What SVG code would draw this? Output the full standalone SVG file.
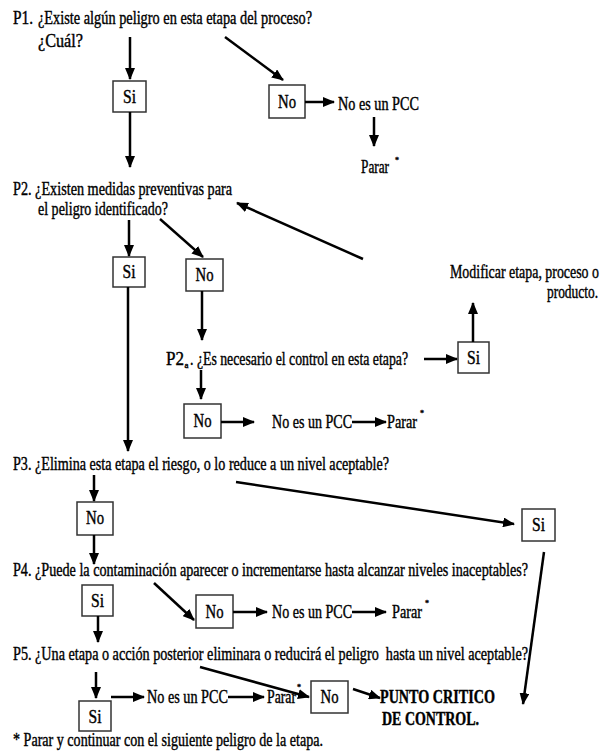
<svg xmlns="http://www.w3.org/2000/svg" width="601" height="751" viewBox="0 0 601 751">
<defs>
<marker id="ah" markerUnits="userSpaceOnUse" markerWidth="12" markerHeight="10" viewBox="0 0 12 10" refX="11" refY="5" orient="auto">
<path d="M0,0 L12,5 L0,10 z" fill="#000"/>
</marker>
<style>
.box{fill:#fff;stroke:#333;stroke-width:1.5}
.c line{stroke:#000;stroke-width:2.5;marker-end:url(#ah)}
.t text{fill:#000;stroke:#000;stroke-width:0.4}
</style>
</defs>
<rect width="601" height="751" fill="#fff"/>

<g class="t" font-family="Liberation Serif" font-size="18">
<g id="p1">
<text x="13" y="24" textLength="20" lengthAdjust="spacingAndGlyphs">P1.</text>
<text x="38" y="24" textLength="274" lengthAdjust="spacingAndGlyphs">¿Existe algún peligro en esta etapa del proceso?</text>
<text x="38" y="47" textLength="45" lengthAdjust="spacingAndGlyphs">¿Cuál?</text>
</g>
<g id="p1-si"><rect class="box" x="113" y="81" width="33" height="31"/><text x="129.5" y="103" text-anchor="middle" textLength="13" lengthAdjust="spacingAndGlyphs">Si</text></g>
<g id="p1-no"><rect class="box" x="269" y="85" width="36" height="33"/><text x="287" y="108" text-anchor="middle" textLength="18" lengthAdjust="spacingAndGlyphs">No</text></g>
<g id="p1-nopcc"><text x="338" y="110" textLength="81" lengthAdjust="spacingAndGlyphs">No es un PCC</text></g>
<g id="p1-parar"><text x="361" y="173" textLength="28" lengthAdjust="spacingAndGlyphs">Parar</text><text font-size="8" x="395" y="163">*</text></g>

<g id="p2">
<text x="13" y="195" textLength="219" lengthAdjust="spacingAndGlyphs">P2. ¿Existen medidas preventivas para</text>
<text x="38" y="215" textLength="130" lengthAdjust="spacingAndGlyphs">el peligro identificado?</text>
</g>
<g id="p2-si"><rect class="box" x="113" y="257" width="32" height="30"/><text x="129" y="278" text-anchor="middle" textLength="13" lengthAdjust="spacingAndGlyphs">Si</text></g>
<g id="p2-no"><rect class="box" x="186" y="259" width="37" height="32"/><text x="204.5" y="281" text-anchor="middle" textLength="18" lengthAdjust="spacingAndGlyphs">No</text></g>
<g id="modificar">
<text x="450" y="278" textLength="149" lengthAdjust="spacingAndGlyphs">Modificar etapa, proceso o</text>
<text x="547" y="298" textLength="51" lengthAdjust="spacingAndGlyphs">producto.</text>
</g>
<g id="p2a">
<text x="166" y="365" textLength="18" lengthAdjust="spacingAndGlyphs">P2</text>
<text font-size="9" x="184.5" y="368">a</text>
<text x="190" y="365" textLength="218" lengthAdjust="spacingAndGlyphs">. ¿Es necesario el control en esta etapa?</text>
</g>
<g id="p2a-si"><rect class="box" x="458" y="342" width="31" height="31"/><text x="473.5" y="364" text-anchor="middle" textLength="13" lengthAdjust="spacingAndGlyphs">Si</text></g>
<g id="p2a-no"><rect class="box" x="184" y="404" width="37" height="34"/><text x="202.5" y="427" text-anchor="middle" textLength="18" lengthAdjust="spacingAndGlyphs">No</text></g>
<g id="p2a-nopcc"><text x="272" y="428" textLength="80" lengthAdjust="spacingAndGlyphs">No es un PCC</text></g>
<g id="p2a-parar"><text x="387" y="428" textLength="30" lengthAdjust="spacingAndGlyphs">Parar</text><text font-size="8" x="420" y="416">*</text></g>

<g id="p3"><text x="13" y="470" textLength="376" lengthAdjust="spacingAndGlyphs">P3. ¿Elimina esta etapa el riesgo, o lo reduce a un nivel aceptable?</text></g>
<g id="p3-no"><rect class="box" x="77" y="502" width="36" height="33"/><text x="95" y="524" text-anchor="middle" textLength="18" lengthAdjust="spacingAndGlyphs">No</text></g>
<g id="p3-si"><rect class="box" x="522" y="509" width="33" height="32"/><text x="538.5" y="531" text-anchor="middle" textLength="13" lengthAdjust="spacingAndGlyphs">Si</text></g>

<g id="p4"><text x="13" y="576" textLength="515" lengthAdjust="spacingAndGlyphs">P4. ¿Puede la contaminación aparecer o incrementarse hasta alcanzar niveles inaceptables?</text></g>
<g id="p4-si"><rect class="box" x="82" y="585" width="31" height="31"/><text x="97.5" y="607" text-anchor="middle" textLength="13" lengthAdjust="spacingAndGlyphs">Si</text></g>
<g id="p4-no"><rect class="box" x="196" y="595" width="37" height="33"/><text x="214.5" y="618" text-anchor="middle" textLength="18" lengthAdjust="spacingAndGlyphs">No</text></g>
<g id="p4-nopcc"><text x="272" y="618" textLength="80" lengthAdjust="spacingAndGlyphs">No es un PCC</text></g>
<g id="p4-parar"><text x="392" y="618" textLength="30" lengthAdjust="spacingAndGlyphs">Parar</text><text font-size="8" x="425" y="606">*</text></g>

<g id="p5"><text style="white-space:pre" x="13" y="660" textLength="515" lengthAdjust="spacingAndGlyphs">P5. ¿Una etapa o acción posterior eliminara o reducirá el peligro  hasta un nivel aceptable?</text></g>
<g id="p5-si"><rect class="box" x="79" y="701" width="32" height="30"/><text x="95" y="723" text-anchor="middle" textLength="13" lengthAdjust="spacingAndGlyphs">Si</text></g>
<g id="p5-nopcc"><text x="147" y="703" textLength="81" lengthAdjust="spacingAndGlyphs">No es un PCC</text></g>
<g id="p5-parar"><text x="267" y="703" textLength="29" lengthAdjust="spacingAndGlyphs">Parar</text><text font-size="8" x="297" y="690">*</text></g>
<g id="p5-no"><rect class="box" x="311" y="681" width="37" height="32"/><text x="329.5" y="703" text-anchor="middle" textLength="18" lengthAdjust="spacingAndGlyphs">No</text></g>
<g id="pcc">
<text font-weight="bold" x="380" y="703" textLength="115" lengthAdjust="spacingAndGlyphs">PUNTO CRITICO</text>
<text font-weight="bold" x="382" y="725" textLength="97" lengthAdjust="spacingAndGlyphs">DE CONTROL.</text>
</g>
<g id="footnote"><text x="13" y="746" textLength="310" lengthAdjust="spacingAndGlyphs">* Parar y continuar con el siguiente peligro de la etapa.</text></g>
</g>

<g id="connectors" class="c">
<line x1="130" y1="37" x2="130" y2="79"/>
<line x1="130" y1="112" x2="130" y2="167"/>
<line x1="225" y1="37" x2="283" y2="80"/>
<line x1="305" y1="102" x2="334" y2="102"/>
<line x1="374" y1="117" x2="374" y2="146"/>
<line x1="129" y1="220" x2="129" y2="256"/>
<line x1="160" y1="219" x2="203" y2="257"/>
<line x1="202" y1="291" x2="202" y2="340"/>
<line x1="363" y1="259" x2="237" y2="203"/>
<line x1="473" y1="342" x2="473" y2="303"/>
<line x1="424" y1="359" x2="457" y2="359"/>
<line x1="201" y1="370" x2="201" y2="399"/>
<line x1="221" y1="422" x2="254" y2="422"/>
<line x1="352" y1="422" x2="386" y2="422"/>
<line x1="128" y1="287" x2="128" y2="451"/>
<line x1="94" y1="475" x2="94" y2="501"/>
<line x1="94" y1="535" x2="94" y2="564"/>
<line x1="236" y1="482" x2="514" y2="524"/>
<line x1="544" y1="552" x2="523" y2="704"/>
<line x1="98" y1="616" x2="98" y2="642"/>
<line x1="154" y1="583" x2="194" y2="620"/>
<line x1="233" y1="612" x2="267" y2="612"/>
<line x1="352" y1="612" x2="386" y2="612"/>
<line x1="96" y1="672" x2="96" y2="698"/>
<line x1="111" y1="697" x2="144" y2="697"/>
<line x1="228" y1="697" x2="264" y2="697"/>
<line x1="200" y1="667" x2="309" y2="697"/>
<line x1="353" y1="689" x2="380" y2="698"/>
</g>
</svg>
